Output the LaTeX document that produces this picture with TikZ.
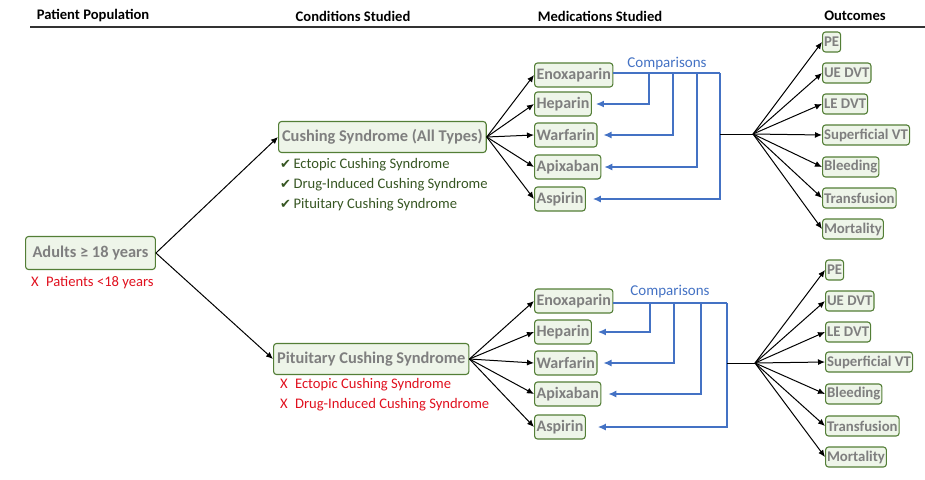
\documentclass[tikz,border=0pt]{standalone}
\usepackage{fontspec}
\setmainfont{Carlito}
\newfontfamily\symfont{DejaVu Sans}
\usetikzlibrary{arrows.meta}
\definecolor{boxfill}{HTML}{EEF5E9}
\definecolor{boxline}{HTML}{537E36}
\definecolor{boxtext}{HTML}{7F7F7F}
\definecolor{okgreen}{HTML}{375623}
\definecolor{nored}{HTML}{E0101E}
\definecolor{cmpblue}{HTML}{4472C4}
\newcommand{\okmark}{{\symfont\fontsize{13}{14}\selectfont\char"2714}}
\begin{document}
\begin{tikzpicture}[x=1pt,y=1pt,yscale=-1,
  box/.style={draw=boxline,fill=boxfill,rounded corners=3pt,line width=1.1pt,
    text=boxtext,font=\bfseries\fontsize{16}{18}\selectfont,inner xsep=2pt,
    inner ysep=0pt,minimum height=24pt,anchor=west},
  bigbox/.style={box,font=\bfseries\fontsize{16.4}{18}\selectfont,minimum height=31pt,inner xsep=3.5pt},
  outbox/.style={box,font=\bfseries\fontsize{14.8}{16}\selectfont,minimum height=20pt,inner xsep=1.5pt},
  head/.style={font=\bfseries\fontsize{14.6}{16}\selectfont,inner sep=0pt},
  oktext/.style={text=okgreen,font=\fontsize{14.6}{16}\selectfont,anchor=west,inner sep=0pt},
  notext/.style={text=nored,font=\fontsize{14.6}{16}\selectfont,anchor=west,inner sep=0pt},
  arr/.style={-{Latex[length=7pt,width=6pt]},line width=1pt},
  cmp/.style={draw=cmpblue,line width=1.2pt,-{Latex[length=8pt,width=7pt]}}]
\useasboundingbox (0,0) rectangle (925,479);

% headers
\node[head] (hPop) at (93,16) {Patient Population};
\node[head] (hCond) at (353,16) {Conditions Studied};
\node[head] (hMed) at (600,16) {Medications Studied};
\node[head] (hOut) at (855,16) {Outcomes};
\draw[line width=1.4pt,black!80] (30,27) -- (925,27);

% population
\node[bigbox,minimum height=33pt,inner xsep=7pt] (adults) at (25,253) {Adults ≥ 18 years};
\node[notext] (noKids) at (31,283) {X\hspace{0.5em}Patients <18 years};

% conditions
\node[bigbox] (cushAll) at (278,137) {Cushing Syndrome (All Types)};
\node[oktext] (okEct) at (280,165) {\okmark\,Ectopic Cushing Syndrome};
\node[oktext] (okDrug) at (280,185) {\okmark\,Drug-Induced Cushing Syndrome};
\node[oktext] (okPit) at (280,205) {\okmark\,Pituitary Cushing Syndrome};

\node[bigbox] (cushPit) at (273,359) {Pituitary Cushing Syndrome};
\node[notext] (noEct) at (280,385) {X\hspace{0.5em}Ectopic Cushing Syndrome};
\node[notext] (noDrug) at (280,405) {X\hspace{0.5em}Drug-Induced Cushing Syndrome};

\draw[arr] (adults.east) -- (cushAll.west);
\draw[arr] (adults.east) -- (cushPit.west);

% medications, top
\node[box] (enoxT) at (534,75) {Enoxaparin};
\node[box] (hepT) at (534,104) {Heparin\hspace{4pt}};
\node[box] (warT) at (534,135) {Warfarin};
\node[box] (apiT) at (534,167) {Apixaban};
\node[box] (aspT) at (534,199) {Aspirin\hspace{3pt}};
\foreach \m in {enoxT,hepT,warT,apiT,aspT}
  \draw[arr] (cushAll.east) -- (\m.west);

% medications, bottom
\node[box] (enoxB) at (534,301) {Enoxaparin};
\node[box] (hepB) at (534,332) {Heparin\hspace{4pt}};
\node[box] (warB) at (534,363) {Warfarin};
\node[box] (apiB) at (534,394) {Apixaban};
\node[box] (aspB) at (534,427) {Aspirin\hspace{3pt}};
\foreach \m in {enoxB,hepB,warB,apiB,aspB}
  \draw[arr] (cushPit.east) -- (\m.west);

% comparisons, top
\node[text=cmpblue,font=\fontsize{15}{17}\selectfont,inner sep=0pt] (cmpT) at (667,64) {Comparisons};
\coordinate (c1T) at (649,73);
\coordinate (c2T) at (673,73);
\coordinate (c3T) at (697,73);
\coordinate (c4T) at (720,73);
\draw[cmp,-] (enoxT.east |- c1T) -- (c4T);
\draw[cmp] (c1T) |- ([xshift=4pt]hepT.east);
\draw[cmp] (c2T) |- ([xshift=6pt]warT.east);
\draw[cmp] (c3T) |- ([xshift=3pt]apiT.east);
\draw[cmp] (c4T) |- ([xshift=7pt]aspT.east);

% comparisons, bottom
\node[text=cmpblue,font=\fontsize{15}{17}\selectfont,inner sep=0pt] (cmpB) at (670,292) {Comparisons};
\coordinate (c1B) at (650,303);
\coordinate (c2B) at (674,303);
\coordinate (c3B) at (701,303);
\coordinate (c4B) at (727,303);
\draw[cmp,-] (enoxB.east |- c1B) -- (c4B);
\draw[cmp] (c1B) |- ([xshift=6pt]hepB.east);
\draw[cmp] (c2B) |- ([xshift=6pt]warB.east);
\draw[cmp] (c3B) |- ([xshift=7pt]apiB.east);
\draw[cmp] (c4B) |- ([xshift=12pt]aspB.east);

% outcomes, top
\coordinate (hubT) at (753,134);
\draw[line width=1pt] (c4T |- hubT) -- (hubT);
\node[outbox] (peT) at (822,42) {PE};
\node[outbox] (ueT) at (822,73) {UE DVT};
\node[outbox] (leT) at (822,104) {LE DVT};
\node[outbox] (svtT) at (822,135) {Superficial VT};
\node[outbox] (bleedT) at (822,167) {Bleeding};
\node[outbox] (transT) at (822,198) {Transfusion};
\node[outbox] (mortT) at (822,229) {Mortality};
\foreach \o in {peT,ueT,leT,svtT,bleedT,transT,mortT}
  \draw[arr] (hubT) -- (\o.west);

% outcomes, bottom
\coordinate (hubB) at (755,363);
\draw[line width=1pt] (c4B |- hubB) -- (hubB);
\node[outbox] (peB) at (825,270) {PE};
\node[outbox] (ueB) at (825,301) {UE DVT};
\node[outbox] (leB) at (825,332) {LE DVT};
\node[outbox] (svtB) at (825,362) {Superficial VT};
\node[outbox] (bleedB) at (825,394) {Bleeding};
\node[outbox] (transB) at (825,426) {Transfusion};
\node[outbox] (mortB) at (825,457) {Mortality};
\foreach \o in {peB,ueB,leB,svtB,bleedB,transB,mortB}
  \draw[arr] (hubB) -- (\o.west);
\end{tikzpicture}
\end{document}
